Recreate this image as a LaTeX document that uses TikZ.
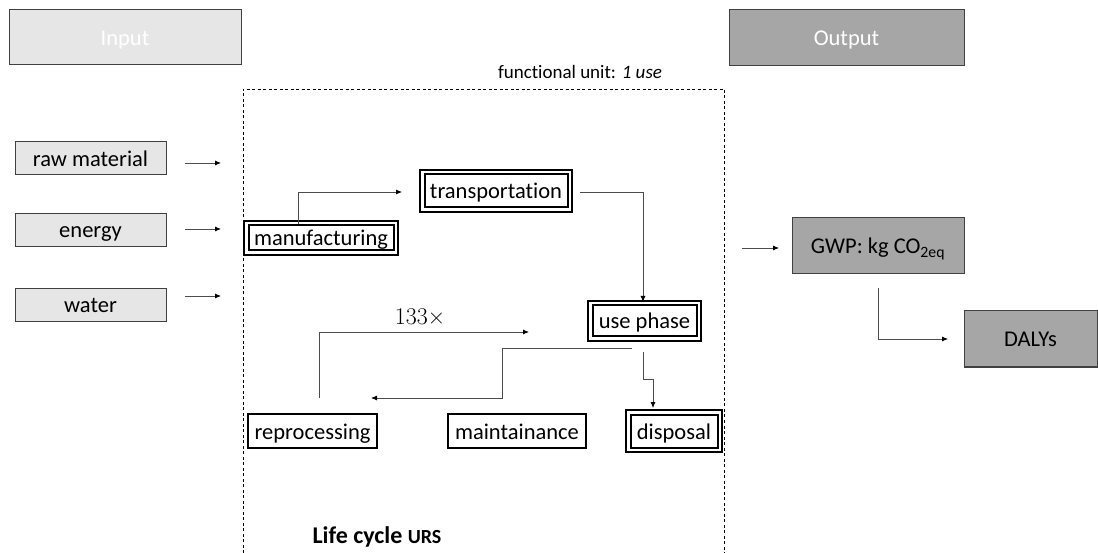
\documentclass[tikz,border=0pt]{standalone}
\usepackage{fontspec}
\setmainfont{Carlito}[Ligatures=NoCommon]
\newfontfamily\mathlike{Latin Modern Roman}
\usetikzlibrary{arrows.meta}
\definecolor{lgray}{HTML}{E7E6E6}
\definecolor{dgray}{HTML}{A6A6A6}
\definecolor{edge}{HTML}{404040}
\begin{document}
\begin{tikzpicture}[x=1pt,y=-1pt,
  every node/.style={font=\fontsize{22.5}{27}\selectfont},
  boxtext/.style={text height=17pt,text depth=1pt,inner sep=0pt},
  graybox/.style={boxtext,draw=edge,line width=1pt,fill=lgray},
  darkbox/.style={boxtext,draw=edge,line width=1pt,fill=dgray},
  triplebox/.style={boxtext,draw=black,line width=2pt,double=white,double distance=2.5pt},
  singlebox/.style={boxtext,draw=black,line width=2pt},
  conn/.style={draw=black!70,line width=0.8pt,-{Latex[length=6pt,width=5pt,black]}}]
\useasboundingbox (0,0) rectangle (1098,553);
% header boxes
\node[graybox,minimum width=232pt,minimum height=55pt,text=white] (input) at (125,37.5) {Input};
\node[darkbox,minimum width=235pt,minimum height=56pt,text=white] (output) at (846.5,38) {Output};
% dashed life cycle frame
\coordinate (fl) at (243,553);
\coordinate (ftl) at (243,89);
\coordinate (ftr) at (724,89);
\coordinate (fr) at (724,553);
\draw[line width=0.9pt,dash pattern=on 3pt off 2.5pt] (fl) -- (ftl) -- (ftr) -- (fr);
\node[font=\fontsize{19}{23}\selectfont] (fu) at (580,72) {functional unit: \textit{1 use}};
% inputs
\node[graybox,minimum width=151pt,minimum height=33pt] (raw) at (90.5,158.5) {raw material};
\node[graybox,minimum width=151pt,minimum height=33pt] (energy) at (90.5,230) {energy};
\node[graybox,minimum width=151pt,minimum height=33pt] (water) at (90.5,305) {water};
\coordinate (rawS) at (185,163);
\coordinate (rawE) at (221,163);
\coordinate (enS) at (185,229);
\coordinate (enE) at (221,229);
\coordinate (waS) at (185,296);
\coordinate (waE) at (221,296);
\draw[conn] (rawS) -- (rawE);
\draw[conn] (enS) -- (enE);
\draw[conn] (waS) -- (waE);
% life cycle stages
\node[triplebox,minimum width=149.5pt,minimum height=29.5pt] (manu) at (321,238) {manufacturing};
\node[triplebox,minimum width=147.5pt,minimum height=37.5pt] (trans) at (496,191) {transportation};
\node[triplebox,minimum width=108.5pt,minimum height=35.5pt] (use) at (644.5,321) {use phase};
\node[triplebox,minimum width=91.5pt,minimum height=37.5pt] (disp) at (674,431) {disposal};
\node[singlebox,minimum width=129pt,minimum height=34pt] (repro) at (312.5,431) {reprocessing};
\node[singlebox,minimum width=138pt,minimum height=34pt] (maint) at (517,431) {maintainance};
% connectors
\coordinate (m1) at (298,224);
\coordinate (m2) at (298,192);
\coordinate (m3) at (402,192);
\draw[conn] (m1) -- (m2) -- (m3);
\coordinate (t1) at (580,192);
\coordinate (t2) at (643,192);
\coordinate (t3) at (643,302);
\draw[conn] (t1) -- (t2) -- (t3);
\coordinate (r1) at (319,398);
\coordinate (r2) at (319,332);
\coordinate (r3) at (529,332);
\draw[conn] (r1) -- (r2) -- (r3);
\node[font=\mathlike\fontsize{24}{28}\selectfont] (cnt) at (420,317) {133×};
\coordinate (u1) at (632,348);
\coordinate (u2) at (502,348);
\coordinate (u3) at (502,398);
\coordinate (u4) at (371,398);
\draw[conn] (u1) -- (u2) -- (u3) -- (u4);
\coordinate (d1) at (643,352);
\coordinate (d2) at (643,379);
\coordinate (d3) at (653,379);
\coordinate (d4) at (653,408);
\draw[conn] (d1) -- (d2) -- (d3) -- (d4);
\node[font=\bfseries\fontsize{24}{28}\selectfont] (lc) at (377,537) {Life cycle {\fontsize{20}{24}\selectfont URS}};
% outputs
\coordinate (oS) at (742,248);
\coordinate (oE) at (779,248);
\draw[conn] (oS) -- (oE);
\node[darkbox,minimum width=172pt,minimum height=56pt] (gwp) at (878,246) {GWP: kg CO\textsubscript{2eq}};
\node[darkbox,minimum width=133pt,minimum height=56pt] (daly) at (1030.5,339) {DALYs};
\coordinate (g1) at (878,288);
\coordinate (g2) at (878,339);
\coordinate (g3) at (948,339);
\draw[conn] (g1) -- (g2) -- (g3);
\end{tikzpicture}
\end{document}
